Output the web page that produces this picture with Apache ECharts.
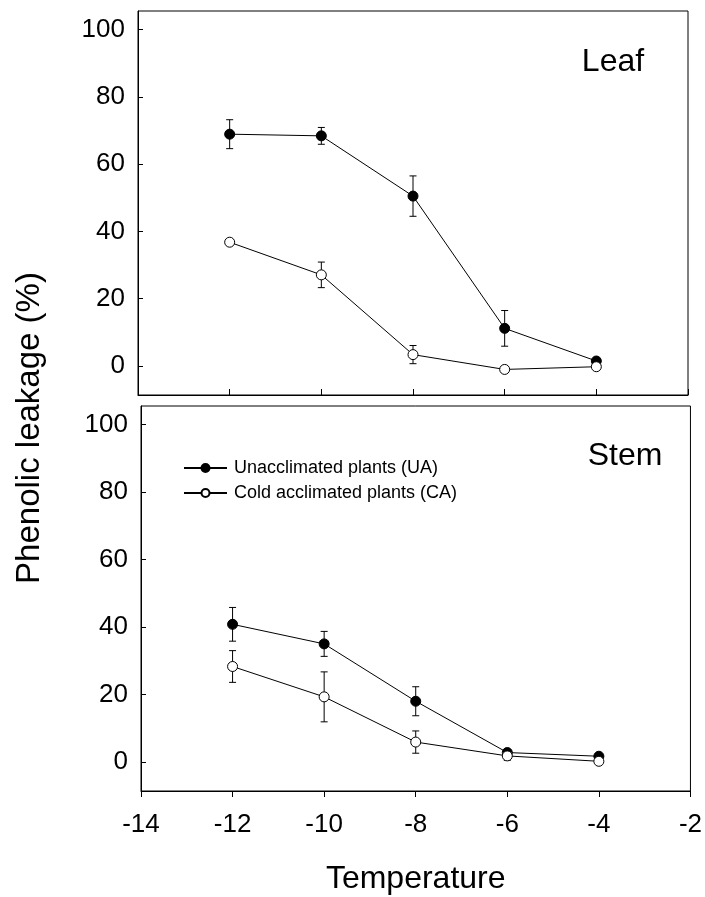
<!DOCTYPE html>
<html>
<head>
<meta charset="utf-8">
<script src="https://cdn.jsdelivr.net/npm/echarts@6/dist/echarts.min.js"></script>
<style>
  html, body { margin: 0; padding: 0; background: #fff; }
  #chart { width: 705px; height: 897px; }
</style>
</head>
<body>
<div id="chart"></div>
<script>
// temperature points (x) and leakage values
var temps = [-12, -10, -8, -6, -4];
var leafUA = [68.9, 68.4, 50.5, 11.2, 1.5];
var leafUAErr = [4.3, 2.5, 6.0, 5.3, 0];
var leafCA = [36.8, 27.1, 3.4, -1.0, -0.2];
var leafCAErr = [0.8, 3.8, 2.7, 0, 0];
var stemUA = [40.8, 35.0, 18.0, 2.8, 1.7];
var stemUAErr = [5.0, 3.7, 4.3, 0.8, 0];
var stemCA = [28.3, 19.3, 5.9, 1.8, 0.2];
var stemCAErr = [4.7, 7.4, 3.3, 1.3, 0];
var yTicks = [0, 20, 40, 60, 80, 100];
var xTicks = [-14, -12, -10, -8, -6, -4, -2];

var FONT = 'Liberation Sans, Arial, sans-serif';
var chart = echarts.init(document.getElementById('chart'));

function pts(vals) {
    return temps.map(function (t, i) { return [t, vals[i]]; });
}

function lineSeries(name, vals, idx, filled) {
    return {
        name: name,
        type: 'line',
        xAxisIndex: idx,
        yAxisIndex: idx,
        data: pts(vals),
        symbol: 'circle',
        symbolSize: 10,
        z: 3,
        lineStyle: { color: '#000', width: 1 },
        itemStyle: { color: filled ? '#000' : '#fff', borderColor: '#000', borderWidth: 1 }
    };
}

function errorBars(vals, errs, idx) {
    return {
        type: 'custom',
        xAxisIndex: idx,
        yAxisIndex: idx,
        silent: true,
        z: 1,
        data: temps.map(function (t, i) { return [t, vals[i] - errs[i], vals[i] + errs[i]]; }),
        encode: { x: 0, y: [1, 2] },
        renderItem: function (params, api) {
            var top = api.coord([api.value(0), api.value(2)]);
            var bot = api.coord([api.value(0), api.value(1)]);
            var w = 3.5;
            var st = { stroke: '#000', lineWidth: 1 };
            return {
                type: 'group',
                children: [
                    { type: 'line', shape: { x1: top[0], y1: top[1], x2: bot[0], y2: bot[1] }, style: st },
                    { type: 'line', shape: { x1: top[0] - w, y1: top[1], x2: top[0] + w, y2: top[1] }, style: st },
                    { type: 'line', shape: { x1: bot[0] - w, y1: bot[1], x2: bot[0] + w, y2: bot[1] }, style: st }
                ]
            };
        }
    };
}

function yAxis(idx) {
    return {
        type: 'value',
        gridIndex: idx,
        min: -8.6,
        max: 105.5,
        axisLine: { show: true, onZero: false, lineStyle: { color: '#000', width: 1 } },
        axisTick: { show: true, inside: true, length: 5, lineStyle: { color: '#000' }, customValues: yTicks },
        axisLabel: {
            color: '#000', fontSize: 26, fontFamily: FONT, margin: 13,
            customValues: yTicks,
            formatter: function (v) { return yTicks.indexOf(v) >= 0 ? String(v) : ''; }
        },
        splitLine: { show: false }
    };
}

var option = {
    backgroundColor: '#fff',
    animation: false,
    grid: [
        { left: 138, top: 11, width: 550, height: 384, show: true, borderColor: '#000', borderWidth: 1, backgroundColor: 'transparent' },
        { left: 141, top: 406, width: 550, height: 385, show: true, borderColor: '#000', borderWidth: 1, backgroundColor: 'transparent' }
    ],
    xAxis: [
        {
            type: 'value', gridIndex: 0, min: -14, max: -2, interval: 2,
            axisLine: { show: true, onZero: false, lineStyle: { color: '#000' } },
            axisTick: { inside: true, length: 6, lineStyle: { color: '#000' } },
            axisLabel: { show: false },
            splitLine: { show: false }
        },
        {
            type: 'value', gridIndex: 1, min: -14, max: -2, interval: 2,
            axisLine: { show: true, onZero: false, lineStyle: { color: '#000' } },
            axisTick: { inside: false, length: 6, lineStyle: { color: '#000' } },
            axisLabel: {
                color: '#000', fontSize: 26, fontFamily: FONT, margin: 21,
                formatter: function (v) { return xTicks.indexOf(v) >= 0 ? String(v) : ''; }
            },
            splitLine: { show: false },
            name: 'Temperature',
            nameLocation: 'middle',
            nameGap: 72,
            nameTextStyle: { color: '#000', fontSize: 32, fontFamily: FONT }
        }
    ],
    yAxis: [yAxis(0), yAxis(1)],
    legend: {
        orient: 'vertical',
        left: 178,
        top: 454,
        itemWidth: 43,
        itemHeight: 10,
        itemGap: 7,
        textStyle: { color: '#000', fontSize: 18, fontFamily: FONT, padding: [0, 0, 0, 2] },
        data: ['Unacclimated plants (UA)', 'Cold acclimated plants (CA)']
    },
    graphic: [
        { type: 'text', x: 30, y: 428, rotation: Math.PI / 2,
          style: { text: 'Phenolic leakage (%)', fill: '#000', font: '33px ' + FONT, textAlign: 'center', textVerticalAlign: 'middle' } },
        { type: 'text', x: 613, y: 62,
          style: { text: 'Leaf', fill: '#000', font: '32px ' + FONT, textAlign: 'center', textVerticalAlign: 'middle' } },
        { type: 'text', x: 625, y: 456,
          style: { text: 'Stem', fill: '#000', font: '32px ' + FONT, textAlign: 'center', textVerticalAlign: 'middle' } }
    ],
    series: [
        errorBars(leafUA, leafUAErr, 0),
        errorBars(leafCA, leafCAErr, 0),
        lineSeries('Unacclimated plants (UA)', leafUA, 0, true),
        lineSeries('Cold acclimated plants (CA)', leafCA, 0, false),
        errorBars(stemUA, stemUAErr, 1),
        errorBars(stemCA, stemCAErr, 1),
        lineSeries('Unacclimated plants (UA)', stemUA, 1, true),
        lineSeries('Cold acclimated plants (CA)', stemCA, 1, false)
    ]
};

chart.setOption(option);
</script>
</body>
</html>
